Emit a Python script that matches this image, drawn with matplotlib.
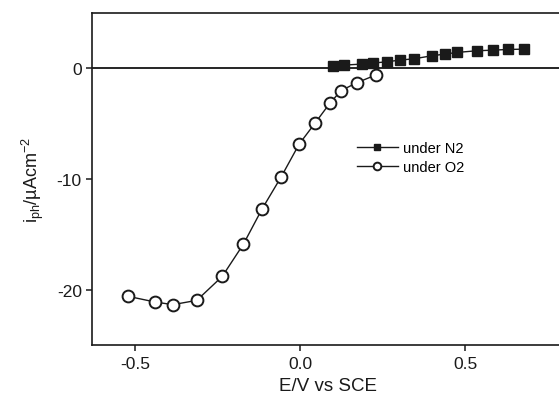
import matplotlib
matplotlib.use("Agg")
import matplotlib.pyplot as plt

# photocurrent vs potential
e_n2 = [0.101, 0.134, 0.187, 0.222, 0.263, 0.303, 0.346, 0.399, 0.439, 0.475, 0.535, 0.586, 0.631, 0.679]
i_n2 = [0.21, 0.27, 0.36, 0.45, 0.57, 0.72, 0.84, 1.11, 1.26, 1.41, 1.56, 1.62, 1.68, 1.71]

e_o2 = [-0.521, -0.441, -0.386, -0.313, -0.236, -0.172, -0.115, -0.057, -0.003, 0.045, 0.09, 0.124, 0.172, 0.229]
i_o2 = [-20.6, -21.1, -21.35, -20.96, -18.8, -15.9, -12.7, -9.8, -6.87, -4.98, -3.18, -2.04, -1.32, -0.63]

xticks = [-0.5, 0.0, 0.5]
yticks = [-20, -10, 0]

plt.rcParams['font.family'] = ['Liberation Sans', 'DejaVu Sans']
plt.rcParams['mathtext.fontset'] = 'custom'
plt.rcParams['mathtext.rm'] = 'Liberation Sans'

fig = plt.figure(figsize=(5.59, 4.02), dpi=100)
ax = fig.add_axes([0.165, 0.139, 0.844, 0.827])

ax.axhline(0, color='black', linewidth=1.2, zorder=1)

ax.plot(e_n2, i_n2, marker='s', color='#1a1a1a', markersize=6.5, linewidth=1.0,
        label='under N2', zorder=3)
ax.plot(e_o2, i_o2, marker='o', color='#1a1a1a', markerfacecolor='white',
        markeredgewidth=1.4, markersize=8.5, linewidth=1.0, label='under O2', zorder=2)

ax.set_xlim(-0.63, 0.8)
ax.set_ylim(-25, 5)
ax.set_xticks(xticks)
ax.set_xticklabels(['-0.5', '0.0', '0.5'])
ax.set_yticks(yticks)
ax.set_yticklabels(['-20', '-10', '0'])
ax.tick_params(direction='out', length=4, width=1.1, labelsize=12.5, colors='#1a1a1a')

for side in ['left', 'bottom', 'top', 'right']:
    ax.spines[side].set_linewidth(1.2)
    ax.spines[side].set_color('#1a1a1a')

ax.set_xlabel('E/V vs SCE', fontsize=13.5, color='#1a1a1a', labelpad=5)
ax.set_ylabel(r'i$_\mathregular{ph}$/µAcm$^\mathregular{-2}$', fontsize=13, color='#1a1a1a', labelpad=8)

ax.legend(loc='center left', bbox_to_anchor=(0.561, 0.565), frameon=False, fontsize=10.5,
          handlelength=2.8, handletextpad=0.35, labelspacing=0.35, borderpad=0,
          borderaxespad=0, markerscale=0.65)

fig.savefig('out.png', dpi=100)
